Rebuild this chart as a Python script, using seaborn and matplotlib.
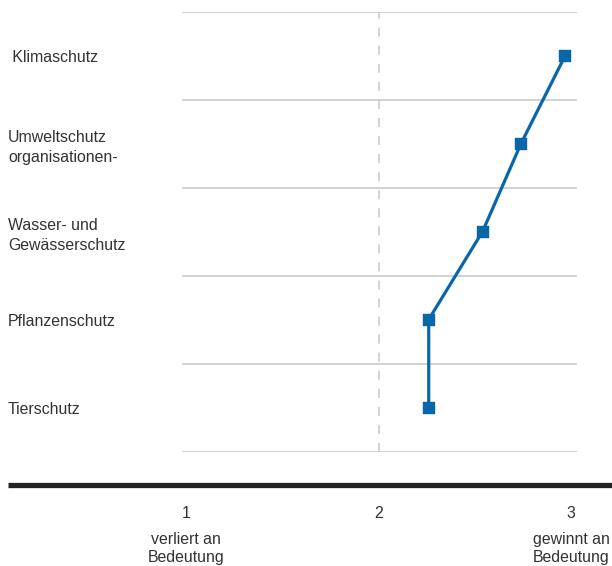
import numpy as np
import pandas as pd
import matplotlib
matplotlib.use('Agg')
import matplotlib.pyplot as plt
from matplotlib.lines import Line2D
import seaborn as sns

# values (1 = verliert an Bedeutung, 3 = gewinnt an Bedeutung)
categories = [' Klimaschutz', 'Umweltschutz\norganisationen-', 'Wasser- und\nGewässerschutz',
              'Pflanzenschutz', 'Tierschutz']
scores = [2.97, 2.74, 2.54, 2.26, 2.26]
xticks = [1, 2, 3]
xticklabels = ['1', '2', '3']
scale_notes = {1: 'verliert an\nBedeutung', 3: 'gewinnt an\nBedeutung'}

df = pd.DataFrame({'Bereich': categories, 'Wert': scores})

sns.set_style('white')
plt.rcParams['font.family'] = ['Liberation Sans', 'DejaVu Sans']

blue = '#0767a8'
text_col = '#333333'
grid_col = '#cfcfcf'
fs = 11.4

fig = plt.figure(figsize=(6.12, 5.66), dpi=100)
W, H = 612, 566
px = 72 / 100  # points per pixel
ax = fig.add_axes([182 / W, 1 - 451.5 / H, (577 - 182) / W, (451.5 - 11.5) / H])

sns.pointplot(data=df, x='Wert', y='Bereich', orient='h', ax=ax, color=blue,
              markers='s', markersize=7, linewidth=2.3, errorbar=None)

# row separators and the dashed middle line
for b in np.arange(len(categories) + 1) - 0.5:
    ax.axhline(b, color=grid_col, lw=1.3, zorder=0)
ax.axvline(2, color=grid_col, lw=1.3, ls=(0, (5, 5)), zorder=0)

ax.set_xlim(0.977, 3.031)
ax.set_ylim(len(categories) - 0.5, -0.5)
for s in ax.spines.values():
    s.set_visible(False)
ax.set_xlabel('')
ax.set_ylabel('')

ax.set_xticks(xticks)
ax.set_xticklabels(xticklabels)
ax.set_yticks(range(len(categories)))
ax.set_yticklabels(categories, ha='left', linespacing=1.4)
ax.tick_params(axis='x', length=0, pad=55 * px, labelsize=fs, labelcolor=text_col)
ax.tick_params(axis='y', length=0, pad=174 * px, labelsize=fs, labelcolor=text_col)

for xv, note in scale_notes.items():
    ax.text(xv, -0.182, note, transform=ax.get_xaxis_transform(), ha='center', va='top',
            fontsize=fs, color=text_col, linespacing=1.25)

# heavy black baseline across the figure
fig.add_artist(Line2D([8 / W, 1], [1 - 485 / H, 1 - 485 / H], transform=fig.transFigure,
                      color='#222222', lw=3.8, solid_capstyle='butt'))

fig.savefig('out.png', dpi=100)
